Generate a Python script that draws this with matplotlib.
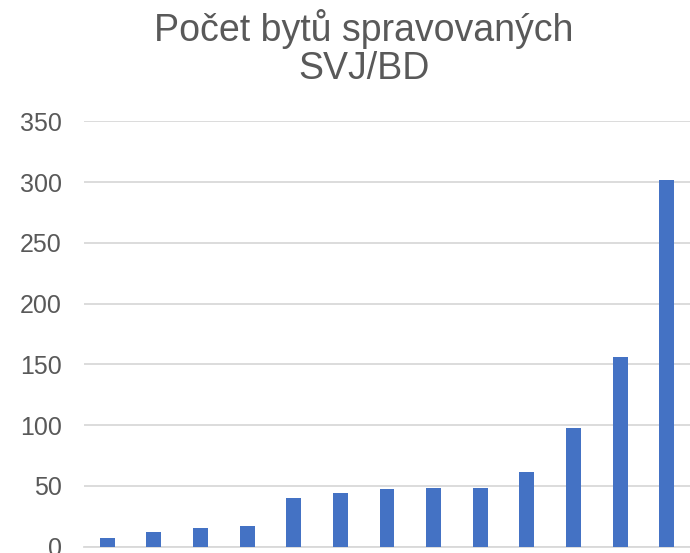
import matplotlib
matplotlib.use("Agg")
import matplotlib.pyplot as plt

categories = list(range(1, 14))
values = [7, 12, 15, 17, 40, 44, 47, 48, 48, 61, 98, 156, 302]
yticks = [0, 50, 100, 150, 200, 250, 300, 350]

plt.rcParams['font.family'] = ['Liberation Sans', 'DejaVu Sans']

fig = plt.figure(figsize=(6.9, 5.53), dpi=100)
ax = fig.add_axes([84/690, 1 - 546.5/553, 606/690, (546.5 - 121.5)/553])

x = list(range(len(categories)))
ax.bar(x, values, width=0.32, color='#4472C4', zorder=3)
ax.set_xlim(-0.5, len(categories) - 0.5)
ax.set_ylim(0, 350)
ax.set_yticks(yticks)
ax.set_yticklabels([str(t) for t in yticks], fontsize=18, color='#595959')
ax.set_xticks([])
ax.tick_params(axis='y', length=0, pad=16)
ax.grid(axis='y', color='#d9d9d9', linewidth=1.3, zorder=0)
for s in ['top', 'right', 'left']:
    ax.spines[s].set_visible(False)
ax.spines['bottom'].set_color('#d9d9d9')
ax.spines['bottom'].set_linewidth(1.3)

fig.text(364/690, 1 - 9/553, 'Počet bytů spravovaných\nSVJ/BD', ha='center', va='top',
         fontsize=27, color='#595959', linespacing=1.08)

fig.savefig('out.png', dpi=100)
